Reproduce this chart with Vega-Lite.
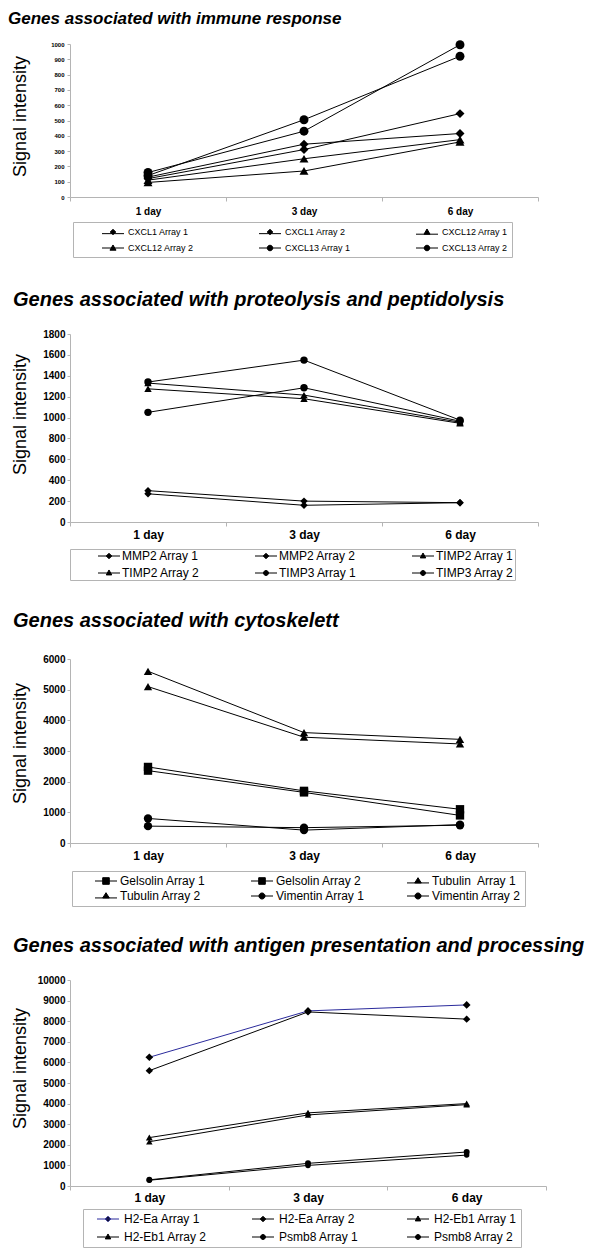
{
  "$schema": "https://vega.github.io/schema/vega-lite/v6.json",
  "background": "white",
  "padding": {"left": 8, "top": 10, "right": 0, "bottom": 0},
  "bounds": "flush",
  "spacing": 137,
  "config": {"view": {"stroke": null}, "font": "Liberation Sans"},
  "datasets": {
    "immune": [
      {"series": "CXCL1 Array 1", "day": "1 day", "value": 130},
      {"series": "CXCL1 Array 1", "day": "3 day", "value": 345},
      {"series": "CXCL1 Array 1", "day": "6 day", "value": 415},
      {"series": "CXCL1 Array 2", "day": "1 day", "value": 120},
      {"series": "CXCL1 Array 2", "day": "3 day", "value": 310},
      {"series": "CXCL1 Array 2", "day": "6 day", "value": 545},
      {"series": "CXCL12 Array 1", "day": "1 day", "value": 110},
      {"series": "CXCL12 Array 1", "day": "3 day", "value": 250},
      {"series": "CXCL12 Array 1", "day": "6 day", "value": 375},
      {"series": "CXCL12 Array 2", "day": "1 day", "value": 95},
      {"series": "CXCL12 Array 2", "day": "3 day", "value": 170},
      {"series": "CXCL12 Array 2", "day": "6 day", "value": 360},
      {"series": "CXCL13 Array 1", "day": "1 day", "value": 140},
      {"series": "CXCL13 Array 1", "day": "3 day", "value": 505},
      {"series": "CXCL13 Array 1", "day": "6 day", "value": 920},
      {"series": "CXCL13 Array 2", "day": "1 day", "value": 160},
      {"series": "CXCL13 Array 2", "day": "3 day", "value": 430},
      {"series": "CXCL13 Array 2", "day": "6 day", "value": 995}
    ],
    "proteo": [
      {"series": "MMP2 Array 1", "day": "1 day", "value": 300},
      {"series": "MMP2 Array 1", "day": "3 day", "value": 200},
      {"series": "MMP2 Array 1", "day": "6 day", "value": 185},
      {"series": "MMP2 Array 2", "day": "1 day", "value": 270},
      {"series": "MMP2 Array 2", "day": "3 day", "value": 160},
      {"series": "MMP2 Array 2", "day": "6 day", "value": 185},
      {"series": "TIMP2 Array 1", "day": "1 day", "value": 1275},
      {"series": "TIMP2 Array 1", "day": "3 day", "value": 1180},
      {"series": "TIMP2 Array 1", "day": "6 day", "value": 945},
      {"series": "TIMP2 Array 2", "day": "1 day", "value": 1330},
      {"series": "TIMP2 Array 2", "day": "3 day", "value": 1215},
      {"series": "TIMP2 Array 2", "day": "6 day", "value": 955},
      {"series": "TIMP3 Array 1", "day": "1 day", "value": 1340},
      {"series": "TIMP3 Array 1", "day": "3 day", "value": 1550},
      {"series": "TIMP3 Array 1", "day": "6 day", "value": 975},
      {"series": "TIMP3 Array 2", "day": "1 day", "value": 1050},
      {"series": "TIMP3 Array 2", "day": "3 day", "value": 1285},
      {"series": "TIMP3 Array 2", "day": "6 day", "value": 965}
    ],
    "cyto": [
      {"series": "Gelsolin Array 1", "day": "1 day", "value": 2480},
      {"series": "Gelsolin Array 1", "day": "3 day", "value": 1700},
      {"series": "Gelsolin Array 1", "day": "6 day", "value": 1100},
      {"series": "Gelsolin Array 2", "day": "1 day", "value": 2360},
      {"series": "Gelsolin Array 2", "day": "3 day", "value": 1650},
      {"series": "Gelsolin Array 2", "day": "6 day", "value": 900},
      {"series": "Tubulin\u00a0 Array 1", "day": "1 day", "value": 5600},
      {"series": "Tubulin\u00a0 Array 1", "day": "3 day", "value": 3600},
      {"series": "Tubulin\u00a0 Array 1", "day": "6 day", "value": 3380},
      {"series": "Tubulin Array 2", "day": "1 day", "value": 5100},
      {"series": "Tubulin Array 2", "day": "3 day", "value": 3450},
      {"series": "Tubulin Array 2", "day": "6 day", "value": 3230},
      {"series": "Vimentin Array 1", "day": "1 day", "value": 800},
      {"series": "Vimentin Array 1", "day": "3 day", "value": 420},
      {"series": "Vimentin Array 1", "day": "6 day", "value": 600},
      {"series": "Vimentin Array 2", "day": "1 day", "value": 550},
      {"series": "Vimentin Array 2", "day": "3 day", "value": 500},
      {"series": "Vimentin Array 2", "day": "6 day", "value": 580}
    ],
    "antigen": [
      {"series": "H2-Ea Array 1", "day": "1 day", "value": 6250},
      {"series": "H2-Ea Array 1", "day": "3 day", "value": 8500},
      {"series": "H2-Ea Array 1", "day": "6 day", "value": 8790},
      {"series": "H2-Ea Array 2", "day": "1 day", "value": 5600},
      {"series": "H2-Ea Array 2", "day": "3 day", "value": 8450},
      {"series": "H2-Ea Array 2", "day": "6 day", "value": 8100},
      {"series": "H2-Eb1 Array 1", "day": "1 day", "value": 2350},
      {"series": "H2-Eb1 Array 1", "day": "3 day", "value": 3550},
      {"series": "H2-Eb1 Array 1", "day": "6 day", "value": 4000},
      {"series": "H2-Eb1 Array 2", "day": "1 day", "value": 2150},
      {"series": "H2-Eb1 Array 2", "day": "3 day", "value": 3450},
      {"series": "H2-Eb1 Array 2", "day": "6 day", "value": 3950},
      {"series": "Psmb8 Array 1", "day": "1 day", "value": 300},
      {"series": "Psmb8 Array 1", "day": "3 day", "value": 1100},
      {"series": "Psmb8 Array 1", "day": "6 day", "value": 1650},
      {"series": "Psmb8 Array 2", "day": "1 day", "value": 280},
      {"series": "Psmb8 Array 2", "day": "3 day", "value": 1000},
      {"series": "Psmb8 Array 2", "day": "6 day", "value": 1500}
    ]
  },
  "vconcat": [
    {
      "width": 468, "height": 153,
      "title": {"text": "Genes associated with immune response", "anchor": "start", "frame": "group", "dx": -62, "offset": 12, "font": "Liberation Sans", "fontSize": 17, "fontStyle": "italic", "fontWeight": "bold", "color": "black"},
      "data": {"name": "immune"},
      "encoding": {
        "x": {"field": "day", "type": "nominal", "sort": ["1 day", "3 day", "6 day"], "scale": {"type": "band", "paddingInner": 0, "paddingOuter": 0},
          "axis": {"title": null, "labelAngle": 0, "tickBand": "extent", "domainColor": "#b4b4b4", "tickColor": "#b4b4b4", "tickSize": 4, "labelPadding": 5, "labelFont": "Liberation Sans", "labelFontSize": 10, "labelFontWeight": "bold", "labelColor": "black", "grid": false}},
        "y": {"field": "value", "type": "quantitative", "scale": {"domain": [0, 1000], "nice": false},
          "axis": {"values": [0, 100, 200, 300, 400, 500, 600, 700, 800, 900, 1000], "format": "d", "title": "Signal intensity", "titleFont": "Liberation Sans", "titleFontSize": 18, "titleFontWeight": "normal", "titleColor": "black", "titleAngle": 270, "titleBaseline": "middle", "titleAlign": "center", "titleX": -50, "titleY": 72, "labelFont": "Liberation Sans", "labelFontSize": 6, "labelFontWeight": "bold", "labelColor": "black", "tickSize": 3, "labelPadding": 3, "tickColor": "#b4b4b4", "domainColor": "#b4b4b4", "grid": false}}
      },
      "layer": [
        {"mark": {"type": "line", "color": "black", "strokeWidth": 1}, "encoding": {"detail": {"field": "series"}}},
        {"mark": {"type": "point", "filled": true, "color": "black", "opacity": 1, "size": 80},
          "encoding": {"shape": {"field": "series", "scale": {"domain": ["CXCL1 Array 1", "CXCL1 Array 2", "CXCL12 Array 1", "CXCL12 Array 2", "CXCL13 Array 1", "CXCL13 Array 2"], "range": ["diamond", "diamond", "triangle-up", "triangle-up", "circle", "circle"]}, "legend": null}}},
        {"mark": {"type": "point", "filled": true, "color": "black", "opacity": 0},
          "encoding": {
            "shape": {"field": "series", "scale": {"domain": ["CXCL1 Array 1", "CXCL1 Array 2", "CXCL12 Array 1", "CXCL12 Array 2", "CXCL13 Array 1", "CXCL13 Array 2"],
              "range": ["M-2,0.3L2,0.3M0,-0.5L0.5,0L0,0.5L-0.5,0Z", "M-2,0.3L2,0.3M0,-0.5L0.5,0L0,0.5L-0.5,0Z", "M-2,0.4L2,0.4M0,-0.55L0.55,0.4L-0.55,0.4Z", "M-2,0L2,0M0,-0.55L0.55,0.4L-0.55,0.4Z", "M-2,0L2,0M0.5,0A0.5,0.5,0,1,1,-0.5,0A0.5,0.5,0,1,1,0.5,0Z", "M-2,0L2,0M0.5,0A0.5,0.5,0,1,1,-0.5,0A0.5,0.5,0,1,1,0.5,0Z"]},
              "legend": {"title": null, "orient": "none", "direction": "horizontal", "legendX": 3, "legendY": 178, "columns": 3, "gridAlign": "all", "padding": 4, "strokeColor": "#b4b4b4", "symbolSize": 121, "symbolStrokeWidth": 1, "symbolFillColor": "black", "symbolOpacity": 1, "symbolOffset": 30, "labelOffset": 9, "columnPadding": 40, "rowPadding": 5, "labelFont": "Liberation Sans", "labelFontSize": 9, "labelColor": "black", "labelLimit": 0}},
            "stroke": {"field": "series", "scale": {"domain": ["CXCL1 Array 1", "CXCL1 Array 2", "CXCL12 Array 1", "CXCL12 Array 2", "CXCL13 Array 1", "CXCL13 Array 2"], "range": ["black", "black", "black", "black", "black", "black"]},
              "legend": {"title": null, "orient": "none", "direction": "horizontal", "legendX": 3, "legendY": 178, "columns": 3, "gridAlign": "all", "padding": 4, "strokeColor": "#b4b4b4", "symbolSize": 121, "symbolStrokeWidth": 1, "symbolFillColor": "black", "symbolOpacity": 1, "symbolOffset": 30, "labelOffset": 9, "columnPadding": 40, "rowPadding": 5, "labelFont": "Liberation Sans", "labelFontSize": 9, "labelColor": "black", "labelLimit": 0}}
          }}
      ],
      "resolve": {"scale": {"shape": "independent", "stroke": "independent"}}
    },
    {
      "width": 468, "height": 188,
      "title": {"text": "Genes associated with proteolysis and peptidolysis", "anchor": "start", "frame": "group", "dx": -57, "offset": 19, "font": "Liberation Sans", "fontSize": 20, "fontStyle": "italic", "fontWeight": "bold", "color": "black"},
      "data": {"name": "proteo"},
      "encoding": {
        "x": {"field": "day", "type": "nominal", "sort": ["1 day", "3 day", "6 day"], "scale": {"type": "band", "paddingInner": 0, "paddingOuter": 0},
          "axis": {"title": null, "labelAngle": 0, "tickBand": "extent", "domainColor": "#b4b4b4", "tickColor": "#b4b4b4", "tickSize": 4, "labelPadding": 3, "labelFont": "Liberation Sans", "labelFontSize": 12, "labelFontWeight": "bold", "labelColor": "black", "grid": false}},
        "y": {"field": "value", "type": "quantitative", "scale": {"domain": [0, 1800], "nice": false},
          "axis": {"values": [0, 200, 400, 600, 800, 1000, 1200, 1400, 1600, 1800], "format": "d", "title": "Signal intensity", "titleFont": "Liberation Sans", "titleFontSize": 18, "titleFontWeight": "normal", "titleColor": "black", "titleAngle": 270, "titleBaseline": "middle", "titleAlign": "center", "titleX": -50, "titleY": 80, "labelFont": "Liberation Sans", "labelFontSize": 10, "labelFontWeight": "bold", "labelColor": "black", "tickSize": 3, "labelPadding": 2, "tickColor": "#b4b4b4", "domainColor": "#b4b4b4", "grid": false}}
      },
      "layer": [
        {"mark": {"type": "line", "color": "black", "strokeWidth": 1}, "encoding": {"detail": {"field": "series"}}},
        {"mark": {"type": "point", "filled": true, "color": "black", "opacity": 1, "size": 55},
          "encoding": {"shape": {"field": "series", "scale": {"domain": ["MMP2 Array 1", "MMP2 Array 2", "TIMP2 Array 1", "TIMP2 Array 2", "TIMP3 Array 1", "TIMP3 Array 2"], "range": ["diamond", "diamond", "triangle-up", "triangle-up", "circle", "circle"]}, "legend": null}}},
        {"mark": {"type": "point", "filled": true, "color": "black", "opacity": 0},
          "encoding": {
            "shape": {"field": "series", "scale": {"domain": ["MMP2 Array 1", "MMP2 Array 2", "TIMP2 Array 1", "TIMP2 Array 2", "TIMP3 Array 1", "TIMP3 Array 2"],
              "range": ["M-2,0L2,0M0,-0.5L0.5,0L0,0.5L-0.5,0Z", "M-2,0L2,0M0,-0.5L0.5,0L0,0.5L-0.5,0Z", "M-2,0L2,0M0,-0.55L0.5,0.35L-0.5,0.35Z", "M-2,0L2,0M0,-0.55L0.5,0.35L-0.5,0.35Z", "M-2,0L2,0M0.45,0A0.45,0.45,0,1,1,-0.45,0A0.45,0.45,0,1,1,0.45,0Z", "M-2,0L2,0M0.45,0A0.45,0.45,0,1,1,-0.45,0A0.45,0.45,0,1,1,0.45,0Z"]},
              "legend": {"title": null, "orient": "none", "direction": "horizontal", "legendX": 0, "legendY": 215, "columns": 3, "gridAlign": "all", "padding": 1, "strokeColor": "#b4b4b4", "symbolSize": 121, "symbolStrokeWidth": 1, "symbolFillColor": "black", "symbolOpacity": 1, "symbolOffset": 32, "labelOffset": 7, "columnPadding": 28, "rowPadding": 5, "labelFont": "Liberation Sans", "labelFontSize": 12, "labelColor": "black", "labelLimit": 0}},
            "stroke": {"field": "series", "scale": {"domain": ["MMP2 Array 1", "MMP2 Array 2", "TIMP2 Array 1", "TIMP2 Array 2", "TIMP3 Array 1", "TIMP3 Array 2"], "range": ["black", "black", "black", "black", "black", "black"]},
              "legend": {"title": null, "orient": "none", "direction": "horizontal", "legendX": 0, "legendY": 215, "columns": 3, "gridAlign": "all", "padding": 1, "strokeColor": "#b4b4b4", "symbolSize": 121, "symbolStrokeWidth": 1, "symbolFillColor": "black", "symbolOpacity": 1, "symbolOffset": 32, "labelOffset": 7, "columnPadding": 28, "rowPadding": 5, "labelFont": "Liberation Sans", "labelFontSize": 12, "labelColor": "black", "labelLimit": 0}}
          }}
      ],
      "resolve": {"scale": {"shape": "independent", "stroke": "independent"}}
    },
    {
      "width": 468, "height": 184,
      "title": {"text": "Genes associated with cytoskelett", "anchor": "start", "frame": "group", "dx": -57, "offset": 23, "font": "Liberation Sans", "fontSize": 20, "fontStyle": "italic", "fontWeight": "bold", "color": "black"},
      "data": {"name": "cyto"},
      "encoding": {
        "x": {"field": "day", "type": "nominal", "sort": ["1 day", "3 day", "6 day"], "scale": {"type": "band", "paddingInner": 0, "paddingOuter": 0},
          "axis": {"title": null, "labelAngle": 0, "tickBand": "extent", "domainColor": "#b4b4b4", "tickColor": "#b4b4b4", "tickSize": 4, "labelPadding": 3, "labelFont": "Liberation Sans", "labelFontSize": 12, "labelFontWeight": "bold", "labelColor": "black", "grid": false}},
        "y": {"field": "value", "type": "quantitative", "scale": {"domain": [0, 6000], "nice": false},
          "axis": {"values": [0, 1000, 2000, 3000, 4000, 5000, 6000], "format": "d", "title": "Signal intensity", "titleFont": "Liberation Sans", "titleFontSize": 18, "titleFontWeight": "normal", "titleColor": "black", "titleAngle": 270, "titleBaseline": "middle", "titleAlign": "center", "titleX": -50, "titleY": 84, "labelFont": "Liberation Sans", "labelFontSize": 10, "labelFontWeight": "bold", "labelColor": "black", "tickSize": 3, "labelPadding": 2, "tickColor": "#b4b4b4", "domainColor": "#b4b4b4", "grid": false}}
      },
      "layer": [
        {"mark": {"type": "line", "color": "black", "strokeWidth": 1}, "encoding": {"detail": {"field": "series"}}},
        {"mark": {"type": "point", "filled": true, "color": "black", "opacity": 1, "size": 70},
          "encoding": {"shape": {"field": "series", "scale": {"domain": ["Gelsolin Array 1", "Gelsolin Array 2", "Tubulin\u00a0 Array 1", "Tubulin Array 2", "Vimentin Array 1", "Vimentin Array 2"], "range": ["square", "square", "triangle-up", "triangle-up", "circle", "circle"]}, "legend": null}}},
        {"mark": {"type": "point", "filled": true, "color": "black", "opacity": 0},
          "encoding": {
            "shape": {"field": "series", "scale": {"domain": ["Gelsolin Array 1", "Gelsolin Array 2", "Tubulin\u00a0 Array 1", "Tubulin Array 2", "Vimentin Array 1", "Vimentin Array 2"],
              "range": ["M-2,0L2,0M-0.6,-0.6L0.6,-0.6L0.6,0.6L-0.6,0.6Z", "M-2,0L2,0M-0.6,-0.6L0.6,-0.6L0.6,0.6L-0.6,0.6Z", "M-2,0.35L2,0.35M0,-0.6L0.6,0.35L-0.6,0.35Z", "M-2,0.35L2,0.35M0,-0.6L0.6,0.35L-0.6,0.35Z", "M-2,0L2,0M0.55,0A0.55,0.55,0,1,1,-0.55,0A0.55,0.55,0,1,1,0.55,0Z", "M-2,0L2,0M0.55,0A0.55,0.55,0,1,1,-0.55,0A0.55,0.55,0,1,1,0.55,0Z"]},
              "legend": {"title": null, "orient": "none", "direction": "horizontal", "legendX": 2, "legendY": 212, "columns": 3, "gridAlign": "all", "padding": 4, "strokeColor": "#b4b4b4", "symbolSize": 121, "symbolStrokeWidth": 1, "symbolFillColor": "black", "symbolOpacity": 1, "symbolOffset": 24, "labelOffset": 8, "columnPadding": 23, "rowPadding": 3, "labelFont": "Liberation Sans", "labelFontSize": 12, "labelColor": "black", "labelLimit": 0}},
            "stroke": {"field": "series", "scale": {"domain": ["Gelsolin Array 1", "Gelsolin Array 2", "Tubulin\u00a0 Array 1", "Tubulin Array 2", "Vimentin Array 1", "Vimentin Array 2"], "range": ["black", "black", "black", "black", "black", "black"]},
              "legend": {"title": null, "orient": "none", "direction": "horizontal", "legendX": 2, "legendY": 212, "columns": 3, "gridAlign": "all", "padding": 4, "strokeColor": "#b4b4b4", "symbolSize": 121, "symbolStrokeWidth": 1, "symbolFillColor": "black", "symbolOpacity": 1, "symbolOffset": 24, "labelOffset": 8, "columnPadding": 23, "rowPadding": 3, "labelFont": "Liberation Sans", "labelFontSize": 12, "labelColor": "black", "labelLimit": 0}}
          }}
      ],
      "resolve": {"scale": {"shape": "independent", "stroke": "independent"}}
    },
    {
      "width": 476, "height": 206,
      "title": {"text": "Genes associated with antigen presentation and processing", "anchor": "start", "frame": "group", "dx": -57, "offset": 19, "font": "Liberation Sans", "fontSize": 20, "fontStyle": "italic", "fontWeight": "bold", "color": "black"},
      "data": {"name": "antigen"},
      "encoding": {
        "x": {"field": "day", "type": "nominal", "sort": ["1 day", "3 day", "6 day"], "scale": {"type": "band", "paddingInner": 0, "paddingOuter": 0},
          "axis": {"title": null, "labelAngle": 0, "tickBand": "extent", "domainColor": "#b4b4b4", "tickColor": "#b4b4b4", "tickSize": 4, "labelPadding": 2, "labelFont": "Liberation Sans", "labelFontSize": 12, "labelFontWeight": "bold", "labelColor": "black", "grid": false}},
        "y": {"field": "value", "type": "quantitative", "scale": {"domain": [0, 10000], "nice": false},
          "axis": {"values": [0, 1000, 2000, 3000, 4000, 5000, 6000, 7000, 8000, 9000, 10000], "format": "d", "title": "Signal intensity", "titleFont": "Liberation Sans", "titleFontSize": 18, "titleFontWeight": "normal", "titleColor": "black", "titleAngle": 270, "titleBaseline": "middle", "titleAlign": "center", "titleX": -50, "titleY": 88, "labelFont": "Liberation Sans", "labelFontSize": 10, "labelFontWeight": "bold", "labelColor": "black", "tickSize": 3, "labelPadding": 2, "tickColor": "#b4b4b4", "domainColor": "#b4b4b4", "grid": false}}
      },
      "layer": [
        {"mark": {"type": "line", "strokeWidth": 1},
          "encoding": {"stroke": {"field": "series", "scale": {"domain": ["H2-Ea Array 1", "H2-Ea Array 2", "H2-Eb1 Array 1", "H2-Eb1 Array 2", "Psmb8 Array 1", "Psmb8 Array 2"], "range": ["#2b2b9c", "black", "black", "black", "black", "black"]}, "legend": null}}},
        {"mark": {"type": "point", "filled": true, "color": "black", "opacity": 1},
          "encoding": {"shape": {"field": "series", "scale": {"domain": ["H2-Ea Array 1", "H2-Ea Array 2", "H2-Eb1 Array 1", "H2-Eb1 Array 2", "Psmb8 Array 1", "Psmb8 Array 2"], "range": ["diamond", "diamond", "triangle-up", "triangle-up", "circle", "circle"]}, "legend": null},
            "size": {"field": "series", "scale": {"domain": ["H2-Ea Array 1", "H2-Ea Array 2", "H2-Eb1 Array 1", "H2-Eb1 Array 2", "Psmb8 Array 1", "Psmb8 Array 2"], "range": [60, 30, 80, 80, 55, 55]}, "legend": null}}},
        {"mark": {"type": "point", "filled": true, "color": "black", "opacity": 0},
          "encoding": {
            "shape": {"field": "series", "scale": {"domain": ["H2-Ea Array 1", "H2-Ea Array 2", "H2-Eb1 Array 1", "H2-Eb1 Array 2", "Psmb8 Array 1", "Psmb8 Array 2"],
              "range": ["M-2,0L2,0M0,-0.5L0.5,0L0,0.5L-0.5,0Z", "M-2,0L2,0M0,-0.5L0.5,0L0,0.5L-0.5,0Z", "M-2,0L2,0M0,-0.55L0.5,0.35L-0.5,0.35Z", "M-2,0L2,0M0,-0.55L0.5,0.35L-0.5,0.35Z", "M-2,0L2,0M0.45,0A0.45,0.45,0,1,1,-0.45,0A0.45,0.45,0,1,1,0.45,0Z", "M-2,0L2,0M0.45,0A0.45,0.45,0,1,1,-0.45,0A0.45,0.45,0,1,1,0.45,0Z"]},
              "legend": {"title": null, "orient": "none", "direction": "horizontal", "legendX": 13, "legendY": 229, "columns": 3, "gridAlign": "all", "padding": 4, "strokeColor": "#b4b4b4", "symbolSize": 121, "symbolStrokeWidth": 1, "symbolFillColor": "black", "symbolOpacity": 1, "symbolOffset": 15, "labelOffset": 10, "columnPadding": 35, "rowPadding": 6, "labelFont": "Liberation Sans", "labelFontSize": 12, "labelColor": "black", "labelLimit": 0}},
            "stroke": {"field": "series", "scale": {"domain": ["H2-Ea Array 1", "H2-Ea Array 2", "H2-Eb1 Array 1", "H2-Eb1 Array 2", "Psmb8 Array 1", "Psmb8 Array 2"], "range": ["#2b2b9c", "black", "black", "black", "black", "black"]},
              "legend": {"title": null, "orient": "none", "direction": "horizontal", "legendX": 13, "legendY": 229, "columns": 3, "gridAlign": "all", "padding": 4, "strokeColor": "#b4b4b4", "symbolSize": 121, "symbolStrokeWidth": 1, "symbolFillColor": "black", "symbolOpacity": 1, "symbolOffset": 15, "labelOffset": 10, "columnPadding": 35, "rowPadding": 6, "labelFont": "Liberation Sans", "labelFontSize": 12, "labelColor": "black", "labelLimit": 0}}
          }}
      ],
      "resolve": {"scale": {"shape": "independent", "stroke": "independent", "size": "independent"}}
    }
  ]
}
